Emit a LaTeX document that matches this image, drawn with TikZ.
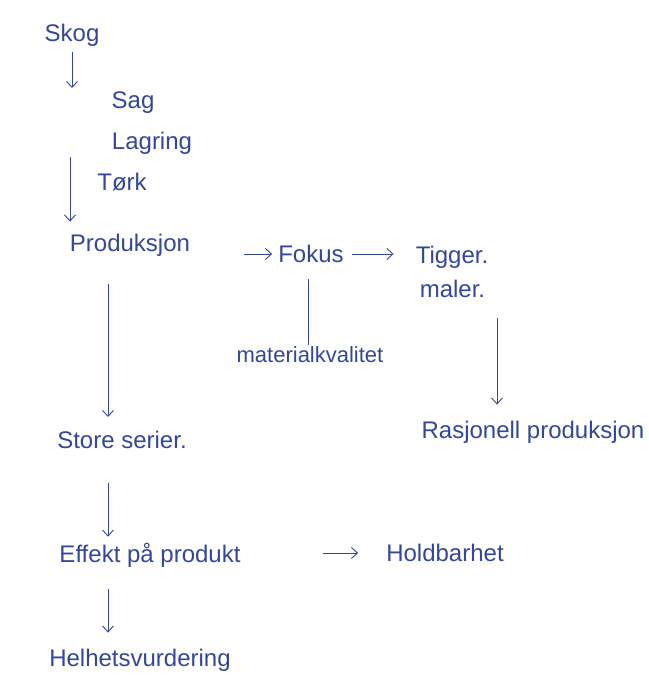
\documentclass[tikz,border=0pt]{standalone}
\usepackage{fontspec}
\setmainfont{Liberation Sans}
\usepackage{xcolor}
\usetikzlibrary{arrows.meta,positioning,calc}
\definecolor{InkBlue}{HTML}{34479A}
\definecolor{PaperWhite}{HTML}{FFFFFF}
\tikzset{
    % Handwritten word
    wordnode/.style={
        text=InkBlue,
        font=\fontsize{24}{34}\selectfont,
        inner sep=2pt,
        align=left
    },
    % Smaller handwritten word
    smallword/.style={
        wordnode,
        font=\fontsize{22}{26}\selectfont
    },
    % Pen arrow
    inkarrow/.style={
        -{Straight Barb[length=6pt,width=11pt]},
        line width=0.9pt,
        draw=InkBlue
    },
    % Pen line without tip
    inkline/.style={
        line width=0.9pt,
        draw=InkBlue
    }
}
\begin{document}
\begin{tikzpicture}[x=1pt, y=-1pt]
        \fill[PaperWhite] (0,0) rectangle (648,688);
        \useasboundingbox (0,0) rectangle (648,688);

        % From forest to production
        \node[wordnode] (skog) at (72,35) {Skog};
        \node[wordnode] (sag) at (133,103) {Sag};
        \node[wordnode] (lagring) at (152,143) {Lagring};
        \node[wordnode] (tork) at (122,182) {Tørk};
        \coordinate (skogend) at (72,88);
        \coordinate (torkstart) at (70,157);
        \node[wordnode] (prod) at (130,245) {Produksjon};
        \draw[inkarrow, shorten <=4pt] (skog.south) -- (skogend);
        \draw[inkarrow, shorten >=10pt] (torkstart) -- ([xshift=-60pt]prod.north);

        % Focus branch
        \node[wordnode] (fokus) at (311,254) {Fokus};
        \node[wordnode] (tigger) at (452,272) {Tigger.\\\hspace*{4pt}maler.};
        \node[smallword] (material) at (310,355) {materialkvalitet};
        \node[wordnode] (rasjonell) at (533,432) {Rasjonell produksjon};
        \draw[inkarrow, shorten <=52pt, shorten >=4pt] (prod.east |- fokus) -- (fokus.west);
        \draw[inkarrow, shorten <=6pt, shorten >=20pt] (fokus.east) -- (tigger.west |- fokus);
        \draw[inkline, shorten <=14pt] ([xshift=-3pt]fokus.south) -- ([xshift=-2pt]material.north);
        \draw[inkarrow, shorten <=18pt, shorten >=14pt] ([xshift=45pt]tigger.south) -- ([xshift=-36pt]rasjonell.north);

        % Main line downwards
        \node[wordnode] (store) at (122,440) {Store serier.};
        \node[wordnode] (effekt) at (150,555) {Effekt på produkt};
        \node[wordnode] (holdbar) at (445,553) {Holdbarhet};
        \node[wordnode] (helhet) at (140,660) {Helhetsvurdering};
        \draw[inkarrow, shorten <=26pt, shorten >=12pt] ([xshift=-22pt]prod.south) -- ([xshift=-14pt]store.north);
        \draw[inkarrow, shorten <=32pt, shorten >=4pt] ([xshift=-14pt]store.south) -- ([xshift=-42pt]effekt.north);
        \draw[inkarrow, shorten <=80pt, shorten >=26pt] (effekt.east |- holdbar) -- (holdbar.west);
        \draw[inkarrow, shorten <=20pt, shorten >=14pt] ([xshift=-42pt]effekt.south) -- ([xshift=-32pt]helhet.north);
    \end{tikzpicture}
\end{document}
